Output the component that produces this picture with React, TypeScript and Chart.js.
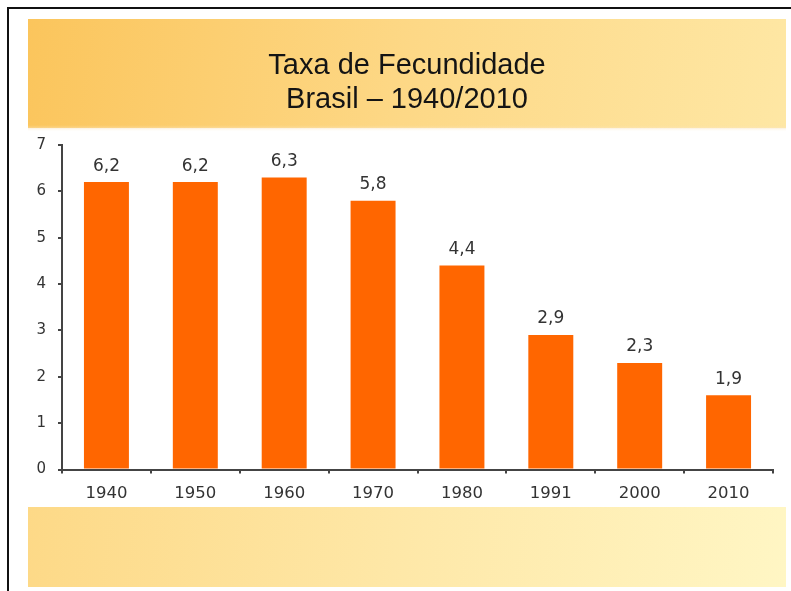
import { useEffect, useRef } from 'react';
import { Chart, registerables } from 'chart.js';

Chart.register(...registerables);

const categories = ['1940', '1950', '1960', '1970', '1980', '1991', '2000', '2010'];
const barValues = [6.2, 6.2, 6.3, 5.8, 4.4, 2.9, 2.3, 1.6];
const valueLabels = ['6,2', '6,2', '6,3', '5,8', '4,4', '2,9', '2,3', '1,9'];
const yMin = 0;
const yMax = 7;
const yStep = 1;
const titleLines = ['Taxa de Fecundidade', 'Brasil – 1940/2010'];

const CANVAS_W = 758;
const CANVAS_H = 568;

const bandsPlugin = {
  id: 'bands',
  afterLayout(chart: any) {
    // centre the title on the whole panel rather than on the plot
    const t = chart.titleBlock;
    if (t) {
      t.left = 0;
      t.right = chart.width;
      t.width = chart.width;
    }
  },
  beforeDraw(chart: any) {
    const ctx = chart.ctx as CanvasRenderingContext2D;
    const w = chart.width;
    const h = chart.height;
    ctx.save();
    const topH = 109;
    const g1 = ctx.createLinearGradient(0, 0, w, topH);
    g1.addColorStop(0, '#fbc55c');
    g1.addColorStop(0.5, '#fdd886');
    g1.addColorStop(1, '#fee7a4');
    ctx.fillStyle = g1;
    ctx.fillRect(0, 0, w, topH);
    const sh = ctx.createLinearGradient(0, topH - 3, 0, topH + 4);
    sh.addColorStop(0, 'rgba(250,225,170,0)');
    sh.addColorStop(0.5, 'rgba(250,232,200,0.5)');
    sh.addColorStop(1, 'rgba(255,255,255,0)');
    ctx.fillStyle = sh;
    ctx.fillRect(0, topH - 3, w, 7);
    const botY = 488;
    const g2 = ctx.createLinearGradient(0, botY, w, h);
    g2.addColorStop(0, '#fdd987');
    g2.addColorStop(0.5, '#fee8a8');
    g2.addColorStop(1, '#fff6c4');
    ctx.fillStyle = g2;
    ctx.fillRect(0, botY, w, h - botY);
    ctx.restore();
  },
};

const valueLabelPlugin = {
  id: 'valueLabels',
  afterDatasetsDraw(chart: any) {
    const ctx = chart.ctx as CanvasRenderingContext2D;
    const meta = chart.getDatasetMeta(0);
    ctx.save();
    ctx.font = '17px "DejaVu Sans"';
    ctx.fillStyle = '#333333';
    ctx.textAlign = 'center';
    ctx.textBaseline = 'middle';
    meta.data.forEach((bar: any, i: number) => {
      ctx.fillText(valueLabels[i], bar.x, bar.y - 16);
    });
    ctx.restore();
  },
};

export default function App() {
  const ref = useRef<HTMLCanvasElement | null>(null);

  useEffect(() => {
    if (!ref.current) return;
    const chart = new Chart(ref.current, {
      type: 'bar',
      data: {
        labels: categories,
        datasets: [
          {
            data: barValues,
            backgroundColor: '#ff6600',
            borderWidth: 0,
            barPercentage: 0.506,
            categoryPercentage: 1,
          },
        ],
      },
      options: {
        responsive: false,
        animation: false,
        devicePixelRatio: 1,
        layout: { padding: { left: 0, right: 13, top: 0, bottom: 77.5 } },
        plugins: {
          legend: { display: false },
          tooltip: { enabled: false },
          title: {
            display: true,
            text: titleLines,
            color: '#141414',
            font: { family: '"Liberation Sans", Arial, sans-serif', size: 29, lineHeight: 33.6 / 29, weight: 'normal' },
            padding: { top: 30.6, bottom: 28.2 },
          },
        },
        scales: {
          x: {
            afterFit(scale: any) {
              scale.height = 40;
            },
            grid: {
              display: true,
              drawOnChartArea: false,
              drawTicks: true,
              tickLength: 4,
              color: '#444444',
              lineWidth: 2,
              offset: true,
            },
            border: { display: true, color: '#444444', width: 2 },
            ticks: {
              color: '#333333',
              font: { family: '"DejaVu Sans"', size: 16.5 },
              padding: 10,
              maxRotation: 0,
            },
          },
          y: {
            min: yMin,
            max: yMax,
            afterFit(scale: any) {
              scale.width = 34;
            },
            grid: {
              display: true,
              drawOnChartArea: false,
              drawTicks: true,
              tickLength: 4,
              color: '#444444',
              lineWidth: 2,
            },
            border: { display: true, color: '#444444', width: 2 },
            ticks: {
              stepSize: yStep,
              color: '#333333',
              font: { family: '"DejaVu Sans"', size: 15 },
              padding: 12,
            },
          },
        },
      },
      plugins: [bandsPlugin, valueLabelPlugin],
    });
    return () => chart.destroy();
  }, []);

  return (
    <div>
      <div
        style={{
          position: 'absolute',
          left: 7,
          top: 7,
          width: 900,
          height: 700,
          border: '2px solid #111',
          boxSizing: 'border-box',
        }}
      />
      <canvas
        ref={ref}
        width={CANVAS_W}
        height={CANVAS_H}
        style={{ position: 'absolute', left: 28, top: 19, width: CANVAS_W, height: CANVAS_H }}
      />
    </div>
  );
}
